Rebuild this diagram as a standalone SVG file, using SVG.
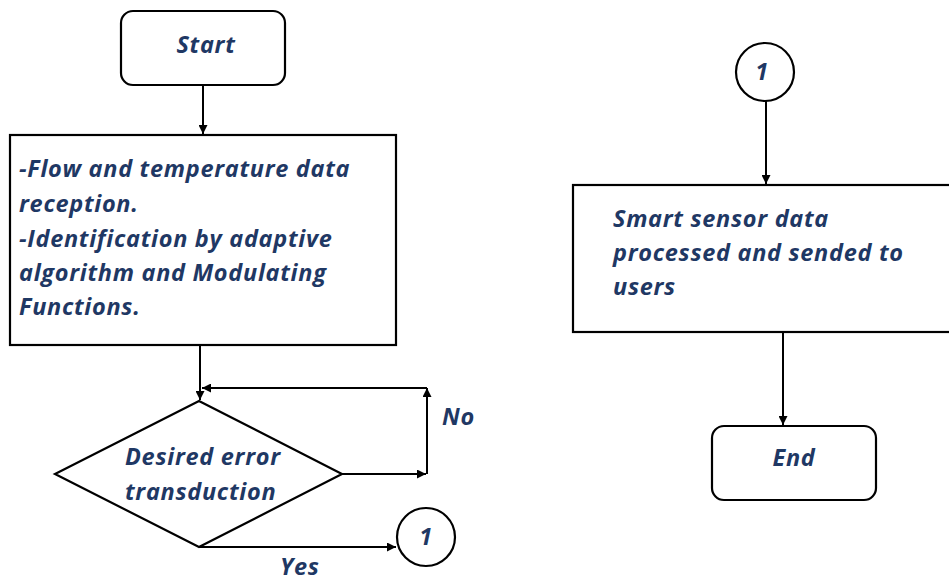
<svg xmlns="http://www.w3.org/2000/svg" width="949" height="582" viewBox="0 0 949 582">
  <style>
    .shape { fill: #ffffff; stroke: #000000; stroke-width: 2.2; }
    .wire { fill: none; stroke: #000000; stroke-width: 2; }
    .label { font-family: "Open Sans", "Liberation Sans", sans-serif; font-weight: bold; font-style: italic; font-size: 23.5px; letter-spacing: 0.7px; fill: #1f3864; }
    .mid { text-anchor: middle; }
  </style>
  <defs>
    <marker id="arrow" viewBox="0 0 10 10" refX="10" refY="5" markerWidth="4.5" markerHeight="4.5" orient="auto" markerUnits="strokeWidth">
      <path d="M0,0 L10,5 L0,10 z" fill="#000000"/>
    </marker>
  </defs>

  <rect width="949" height="582" fill="#ffffff"/>

  <!-- connectors -->
  <g id="connectors">
    <line class="wire" x1="203" y1="85" x2="203" y2="134" marker-end="url(#arrow)"/>
    <line class="wire" x1="200" y1="345" x2="200" y2="400" marker-end="url(#arrow)"/>
    <line class="wire" x1="342" y1="474" x2="426" y2="474" marker-end="url(#arrow)"/>
    <line class="wire" x1="427" y1="474" x2="427" y2="388" marker-end="url(#arrow)"/>
    <line class="wire" x1="427" y1="388" x2="202" y2="388" marker-end="url(#arrow)"/>
    <line class="wire" x1="199" y1="547" x2="396" y2="547" marker-end="url(#arrow)"/>
    <line class="wire" x1="766" y1="101" x2="766" y2="184" marker-end="url(#arrow)"/>
    <line class="wire" x1="783" y1="332" x2="783" y2="425" marker-end="url(#arrow)"/>
  </g>

  <!-- start terminator -->
  <g id="start">
    <rect class="shape" x="121" y="11" width="164" height="74" rx="12" ry="12"/>
    <text class="label mid" x="206" y="53">Start</text>
  </g>

  <!-- data reception / identification step -->
  <g id="identify">
    <rect class="shape" x="10" y="135" width="386" height="210"/>
    <text class="label" x="19" y="177">-Flow and temperature data</text>
    <text class="label" x="19" y="212">reception.</text>
    <text class="label" x="19" y="247">-Identification by adaptive</text>
    <text class="label" x="19" y="281">algorithm and Modulating</text>
    <text class="label" x="19" y="315">Functions.</text>
  </g>

  <!-- decision -->
  <g id="decision">
    <polygon class="shape" points="199,401 342,474 199,547 55,474"/>
    <text class="label" x="125" y="465">Desired error</text>
    <text class="label" x="125" y="500">transduction</text>
  </g>

  <g id="label-no">
    <text class="label" x="442" y="425">No</text>
  </g>
  <g id="label-yes">
    <text class="label" x="280" y="575">Yes</text>
  </g>

  <!-- off-page connector (out) -->
  <g id="connector-out">
    <circle class="shape" cx="426" cy="537" r="29"/>
    <text class="label mid" x="426" y="545">1</text>
  </g>

  <!-- off-page connector (in) -->
  <g id="connector-in">
    <circle class="shape" cx="765" cy="72" r="29"/>
    <text class="label mid" x="762" y="80">1</text>
  </g>

  <!-- processing and delivery step -->
  <g id="deliver">
    <rect class="shape" x="573" y="185" width="390" height="147"/>
    <text class="label" x="613" y="227">Smart sensor data</text>
    <text class="label" x="613" y="261">processed and sended to</text>
    <text class="label" x="613" y="295">users</text>
  </g>

  <!-- end terminator -->
  <g id="end">
    <rect class="shape" x="712" y="426" width="164" height="74" rx="12" ry="12"/>
    <text class="label mid" x="794" y="466">End</text>
  </g>
</svg>
